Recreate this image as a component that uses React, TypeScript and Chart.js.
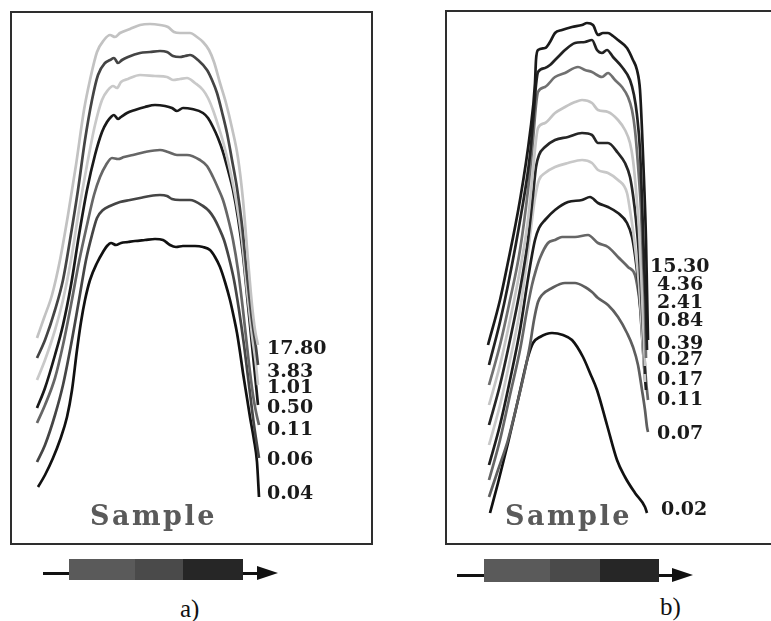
import React, { useEffect, useRef } from "react";
import { Chart, registerables } from "chart.js";

Chart.register(...registerables);

// ---------- Panel a) : position (x) vs. signal (y) ----------
const A1: [number, number][] = [[25,205],[32,225],[40,248],[48,283],[56,328],[64,378],[72,433],[78,463],[85,491],[92,503],[98,508],[103,506],[108,510],[118,514],[128,518],[138,519],[148,518],[156,516],[162,511],[168,510],[178,510],[185,506],[191,501],[197,493],[202,481],[208,460],[214,440],[220,415],[226,385],[231,343],[236,283],[240,238],[243,213],[246,198]];
const A2: [number, number][] = [[25,185],[33,203],[43,233],[51,263],[58,303],[66,353],[73,403],[80,443],[86,468],[93,480],[98,483],[102,485],[106,480],[110,483],[116,486],[128,490],[138,491],[148,492],[155,491],[161,487],[168,486],[173,487],[178,488],[186,483],[195,473],[200,463],[205,450],[210,431],[215,410],[220,383],[225,355],[230,318],[235,268],[240,223],[244,195],[246,178]];
const A3: [number, number][] = [[25,163],[33,183],[43,213],[51,243],[59,283],[67,333],[75,378],[83,418],[90,443],[96,453],[101,457],[105,455],[109,461],[116,464],[128,468],[143,467],[155,466],[161,463],[168,464],[175,465],[183,460],[191,453],[196,445],[201,433],[206,418],[212,398],[218,373],[224,343],[230,303],[235,253],[240,208],[244,178],[246,158]];
const A4: [number, number][] = [[25,135],[33,155],[43,188],[51,218],[59,258],[67,308],[75,353],[83,388],[90,411],[95,421],[99,426],[102,428],[106,424],[109,426],[115,430],[123,433],[133,436],[143,438],[153,437],[160,435],[165,432],[171,435],[180,434],[191,430],[196,425],[201,416],[206,405],[211,391],[216,373],[221,353],[226,325],[231,288],[236,238],[241,188],[244,158],[246,138]];
const A5: [number, number][] = [[25,120],[33,138],[43,165],[51,198],[59,238],[67,281],[75,318],[82,348],[88,366],[94,378],[100,385],[106,384],[112,386],[121,388],[133,391],[148,393],[156,391],[165,388],[175,388],[188,383],[195,377],[201,366],[206,355],[211,343],[216,325],[221,303],[226,273],[231,233],[236,188],[241,148],[244,131],[247,118]];
const A6: [number, number][] = [[25,81],[33,98],[43,128],[51,158],[59,198],[67,243],[74,283],[80,308],[85,325],[91,333],[98,337],[108,341],[118,343],[128,345],[138,347],[148,348],[155,347],[160,344],[168,343],[178,343],[191,337],[197,332],[202,325],[207,315],[212,303],[217,285],[222,263],[227,233],[232,198],[237,158],[242,118],[247,85]];
const A7: [number, number][] = [[26,56],[33,68],[41,85],[48,103],[55,126],[60,153],[65,193],[69,221],[73,243],[78,263],[85,280],[91,291],[95,297],[99,300],[104,298],[109,300],[116,301],[123,302],[133,303],[143,304],[151,303],[158,298],[164,296],[171,297],[183,297],[191,296],[198,293],[203,286],[208,276],[213,261],[218,243],[222,225],[225,210],[228,191],[231,170],[235,145],[238,126],[242,103],[245,81],[247,46]];
const A_SERIES = [A1, A2, A3, A4, A5, A6, A7];
const A_COLORS = ["#c2c2c2", "#444444", "#c9c9c9", "#1a1a1a", "#666666", "#454545", "#111111"];
const A_LABELS = ["17.80", "3.83", "1.01", "0.50", "0.11", "0.06", "0.04"];
const A_LABEL_X = [255, 255, 255, 255, 255, 255, 255];
const A_LABEL_Y = [196, 173, 157, 137, 115, 85, 51];

// ---------- Panel b) ----------
const B1: [number, number][] = [[41,198],[53,243],[60,276],[73,343],[83,410],[88,460],[89,483],[91,493],[98,495],[103,501],[108,510],[115,513],[125,516],[135,518],[140,520],[146,518],[151,508],[156,510],[161,510],[166,507],[171,503],[180,495],[186,483],[190,473],[193,453],[195,413],[197,363],[199,303],[200,253],[201,203]];
const B2: [number, number][] = [[42,178],[53,221],[61,258],[74,328],[83,388],[87,433],[89,458],[91,471],[98,475],[103,478],[108,483],[113,488],[118,493],[128,500],[138,501],[145,503],[150,493],[155,490],[160,493],[166,486],[175,476],[183,463],[187,448],[190,428],[193,393],[195,343],[197,283],[199,233],[200,193]];
const B3: [number, number][] = [[42,158],[53,198],[63,243],[73,293],[81,353],[86,403],[89,438],[91,451],[98,456],[108,466],[118,470],[131,476],[138,473],[145,471],[155,466],[161,470],[168,463],[175,456],[181,446],[185,433],[188,413],[191,378],[194,333],[196,283],[198,233],[199,185]];
const B4: [number, number][] = [[42,138],[53,178],[63,223],[73,273],[81,323],[86,373],[89,403],[91,415],[98,420],[108,430],[118,436],[128,441],[135,443],[145,440],[151,433],[161,431],[171,423],[178,413],[183,400],[186,383],[189,353],[192,313],[194,273],[196,223],[198,177]];
const B5: [number, number][] = [[42,118],[53,158],[63,203],[73,253],[81,303],[86,348],[89,376],[92,388],[98,396],[108,403],[121,406],[135,410],[145,408],[151,400],[161,400],[171,390],[178,380],[183,366],[186,348],[189,323],[192,288],[194,253],[196,213],[198,169]];
const B6: [number, number][] = [[42,98],[53,138],[63,183],[73,233],[80,283],[85,323],[88,345],[92,363],[98,370],[108,376],[121,380],[135,383],[145,380],[151,373],[161,370],[171,363],[180,350],[183,333],[186,313],[189,288],[192,258],[194,228],[196,193],[198,161]];
const B7: [number, number][] = [[42,78],[53,118],[63,163],[73,213],[80,258],[85,288],[88,303],[92,315],[98,323],[108,333],[121,341],[135,343],[143,346],[151,340],[161,336],[171,330],[180,320],[185,306],[188,288],[191,263],[193,238],[195,208],[197,178],[199,153]];
const B8: [number, number][] = [[42,63],[53,103],[63,148],[73,193],[80,233],[85,258],[89,273],[93,285],[101,300],[108,303],[115,306],[128,306],[141,308],[151,300],[161,296],[171,286],[181,276],[188,268],[191,253],[193,238],[195,220],[197,193],[199,163],[201,143]];
const B9: [number, number][] = [[42,46],[51,73],[61,103],[71,143],[78,173],[83,198],[87,223],[91,241],[95,248],[105,255],[118,260],[128,260],[138,256],[145,251],[151,245],[161,238],[171,226],[180,210],[186,196],[191,178],[195,153],[198,133],[200,116],[201,111]];
const B10: [number, number][] = [[43,30],[51,60],[61,100],[71,143],[81,186],[86,200],[93,206],[105,210],[116,208],[125,203],[136,186],[143,170],[150,153],[160,118],[170,83],[178,66],[188,50],[198,36],[200,30]];
const B_SERIES = [B1, B2, B3, B4, B5, B6, B7, B8, B9, B10];
const B_COLORS = ["#1a1a1a", "#222222", "#707070", "#c4c4c4", "#262626", "#c8c8c8", "#1e1e1e", "#666666", "#5e5e5e", "#111111"];
const B_LABELS = ["15.30", "4.36", "2.41", "0.84", "0.39", "0.27", "0.17", "0.11", "0.07", "0.02"];
const B_LABEL_X = [203, 210, 210, 210, 210, 210, 210, 210, 210, 214];
const B_LABEL_Y = [278, 260, 242, 224, 201, 185, 165, 145, 111, 35];

const endLabels = {
  id: "endLabels",
  afterDatasetsDraw(chart: any, _args: any, opts: any) {
    const { ctx } = chart;
    const x = chart.scales.x;
    const y = chart.scales.y;
    ctx.save();
    ctx.font = 'bold 19px "DejaVu Serif"';
    ctx.fillStyle = "#1a1a1a";
    ctx.textAlign = "left";
    ctx.textBaseline = "alphabetic";
    (opts.labels as string[]).forEach((t, i) => {
      ctx.fillText(t, x.getPixelForValue(opts.xs[i]), y.getPixelForValue(opts.ys[i]) + 7);
    });
    ctx.restore();
  },
};

function Panel(props: {
  series: [number, number][][];
  colors: string[];
  labels: string[];
  lx: number[];
  ly: number[];
  w: number;
  h: number;
  style: React.CSSProperties;
}) {
  const ref = useRef<HTMLCanvasElement>(null);
  useEffect(() => {
    if (!ref.current) return;
    const chart = new Chart(ref.current, {
      type: "line",
      data: {
        datasets: props.series.map((s, i) => ({
          data: s.map(([x, y]) => ({ x, y })),
          borderColor: props.colors[i],
          borderWidth: 2.7,
          pointRadius: 0,
          fill: false,
          cubicInterpolationMode: "monotone" as const,
        })),
      },
      options: {
        animation: false,
        responsive: false,
        devicePixelRatio: 1,
        events: [],
        layout: { padding: 0 },
        scales: {
          x: { type: "linear", display: false, min: 0, max: props.w },
          y: { type: "linear", display: false, min: 0, max: props.h },
        },
        plugins: {
          legend: { display: false },
          tooltip: { enabled: false },
          // @ts-ignore
          endLabels: { labels: props.labels, xs: props.lx, ys: props.ly },
        },
      },
      plugins: [endLabels],
    });
    return () => chart.destroy();
  }, []);
  return <canvas ref={ref} width={props.w} height={props.h} style={{ position: "absolute", display: "block", ...props.style }} />;
}

const sampleStyle: React.CSSProperties = {
  position: "absolute",
  font: 'bold 27px "DejaVu Serif"',
  lineHeight: "27px",
  letterSpacing: "2.5px",
  color: "#5a5a5a",
  whiteSpace: "nowrap",
};

const capStyle: React.CSSProperties = {
  position: "absolute",
  font: '25px "Liberation Serif"',
  lineHeight: "25px",
  color: "#111",
  whiteSpace: "nowrap",
};

function Bar(props: { x0: number; x1: number; x2: number; x3: number; x4: number; tip: number; top: number; h: number; ly: number }) {
  const { x0, x1, x2, x3, x4, tip, top, h, ly } = props;
  const seg = (l: number, r: number, c: string) => (
    <div style={{ position: "absolute", left: l, top, width: r - l, height: h, background: c }} />
  );
  return (
    <>
      <div style={{ position: "absolute", left: x0, top: ly - 1.5, width: x1 - x0, height: 3, background: "#111" }} />
      {seg(x1, x2, "#5a5a5a")}
      {seg(x2, x3, "#4a4a4a")}
      {seg(x3, x4, "#262626")}
      <div style={{ position: "absolute", left: x4, top: ly - 1.5, width: 18, height: 3, background: "#111" }} />
      <div
        style={{
          position: "absolute",
          left: tip - 21,
          top: ly - 7,
          width: 0,
          height: 0,
          borderTop: "7px solid transparent",
          borderBottom: "7px solid transparent",
          borderLeft: "21px solid #111",
        }}
      />
    </>
  );
}

export default function App() {
  return (
    <div style={{ position: "absolute", left: 0, top: 0, width: 771, height: 621, overflow: "hidden", background: "#fff" }}>
      <div style={{ position: "absolute", left: 10, top: 11, width: 363, height: 534, border: "2px solid #2e2e2e", boxSizing: "border-box" }} />
      <div style={{ position: "absolute", left: 445, top: 10, width: 400, height: 535, border: "2px solid #2e2e2e", boxSizing: "border-box" }} />
      <Panel series={A_SERIES} colors={A_COLORS} labels={A_LABELS} lx={A_LABEL_X} ly={A_LABEL_Y} w={359} h={530} style={{ left: 12, top: 13 }} />
      <Panel series={B_SERIES} colors={B_COLORS} labels={B_LABELS} lx={B_LABEL_X} ly={B_LABEL_Y} w={324} h={531} style={{ left: 447, top: 12 }} />
      <div style={{ ...sampleStyle, left: 90, top: 502 }}>Sample</div>
      <div style={{ ...sampleStyle, left: 505, top: 502 }}>Sample</div>
      <Bar x0={43} x1={69} x2={135} x3={183} x4={243} tip={278} top={559} h={21} ly={573} />
      <Bar x0={457} x1={484} x2={550} x3={600} x4={659} tip={693} top={559} h={23} ly={575} />
      <div style={{ ...capStyle, left: 180, top: 596 }}>a)</div>
      <div style={{ ...capStyle, left: 660, top: 594 }}>b)</div>
    </div>
  );
}
